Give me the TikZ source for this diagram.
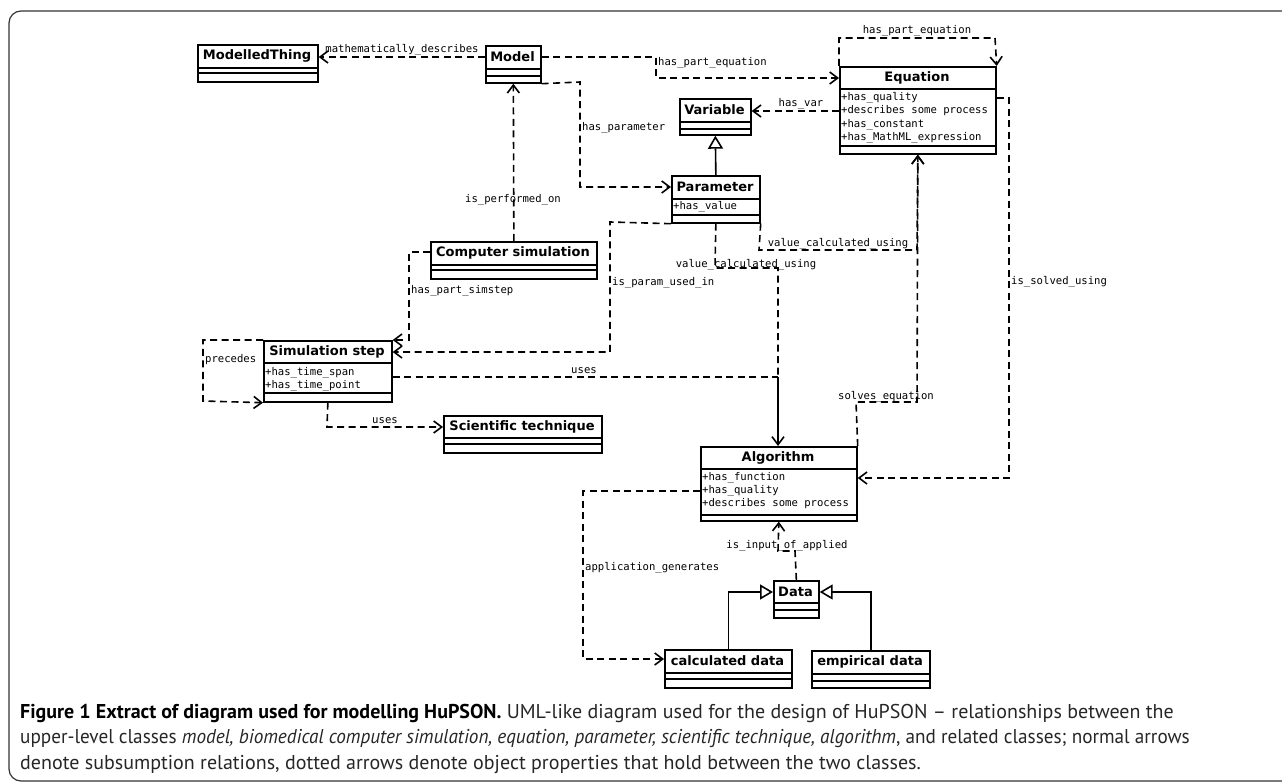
\documentclass[tikz,border=0pt]{standalone}
\usepackage{fontspec}
\setmainfont{PT Sans}
\newfontfamily\clsfont{DejaVu Sans}
\newfontfamily\lblfont{DejaVu Sans Mono}
\usetikzlibrary{arrows.meta}

% one UML class box: name, x, y, width, height, two separator offsets, title
\newcommand{\classbox}[8]{%
  \node[cls, minimum width=#4pt, minimum height=#5pt] (#1) at (#2,#3) {};
  \draw[line width=1.7pt] (#2,#3+#6) -- ++(#4,0) (#2,#3+#7) -- ++(#4,0);
  \node[ttl] (#1-t) at (#2+#4/2,#3+#6/2) {#8};
}

\begin{document}
\begin{tikzpicture}[x=1pt, y=-1pt,
  every node/.style={inner sep=0pt},
  cls/.style={draw, line width=1.7pt, fill=white, anchor=north west},
  ttl/.style={font=\clsfont\bfseries\fontsize{13}{15}\selectfont},
  attr/.style={font=\lblfont\fontsize{10.6}{12}\selectfont, anchor=west},
  lbl/.style={font=\lblfont\fontsize{10.6}{12}\selectfont},
  captext/.style={font=\fontsize{20}{24}\selectfont, anchor=west, text=black!85},
  deline/.style={line width=1.6pt, dash pattern=on 7pt off 4.5pt},
  dep/.style={deline, -{Straight Barb[length=8pt,width=12pt]}},
  isa/.style={line width=1.6pt, -{Triangle[open,length=13pt,width=15pt,fill=white]}}]
  \useasboundingbox (0,0) rectangle (1282,783);
  \clip (0,0) rectangle (1282,783);
  \draw[line width=1.2pt, black!80, rounded corners=12pt] (1320,11) -- (9,11) -- (9,781) -- (1320,781);

  % classes
  \classbox{mthing}{197}{44}{120}{37}{24}{29}{ModelledThing}
  \classbox{model}{485}{45}{55}{37}{24}{31}{Model}
  \classbox{eqn}{839}{66}{156}{87}{23}{80}{Equation}
  \classbox{var}{679}{98}{71}{36}{24}{31}{Variable}
  \classbox{param}{671}{175}{88}{47}{24}{40}{Parameter}
  \classbox{compsim}{430}{241}{166}{37}{24}{29}{Computer simulation}
  \classbox{simstep}{263}{340}{128}{61}{23}{53}{Simulation step}
  \classbox{scitech}{443}{415}{158}{37}{23}{29}{Scientific technique}
  \classbox{algo}{700}{446}{156}{74}{23}{69}{Algorithm}
  \classbox{data}{773}{580}{45}{37}{23}{30}{Data}
  \classbox{calc}{664}{649}{127}{38}{24}{30}{calculated data}
  \classbox{emp}{811}{650}{118}{37}{24}{31}{empirical data}

  % attributes
  \node[attr] (eqn-a1) at (841,98) {+has\_quality};
  \node[attr] (eqn-a2) at (841,111) {+describes some process};
  \node[attr] (eqn-a3) at (841,125) {+has\_constant};
  \node[attr] (eqn-a4) at (841,138) {+has\_MathML\_expression};
  \node[attr] (param-a1) at (673,207) {+has\_value};
  \node[attr] (simstep-a1) at (265,373) {+has\_time\_span};
  \node[attr] (simstep-a2) at (265,386) {+has\_time\_point};
  \node[attr] (algo-a1) at (702,478) {+has\_function};
  \node[attr] (algo-a2) at (702,491) {+has\_quality};
  \node[attr] (algo-a3) at (702,504) {+describes some process};

  % object properties
  \draw[dep] (model.west |- 0,57) -- (mthing.east |- 0,57);
  \node[lbl] (l-math) at (402,50) {mathematically\_describes};
  \draw[dep] (model.east |- 0,57) -- (656,57) -- (656,78) -- (eqn.west |- 0,78);
  \node[lbl, anchor=west] (l-part1) at (658,63) {has\_part\_equation};
  \draw[dep] (eqn.north west) -- (839,38) -- (995,38) -- (eqn.north east);
  \node[lbl] (l-part2) at (917,31) {has\_part\_equation};
  \draw[dep] (eqn.west |- 0,111) -- (var.east |- 0,111);
  \node[lbl] (l-var) at (801,104) {has\_var};
  \draw[dep] (model.south east) -- (580,82) -- (580,187) -- (param.west |- 0,187);
  \node[lbl, anchor=west] (l-hpar) at (582,128) {has\_parameter};
  \draw[isa] (param.north) -- (var.south);
  \draw[dep] (compsim.north) -- (model.south);
  \node[lbl] (l-perf) at (513,200) {is\_performed\_on};
  \draw[dep] (compsim.west |- 0,252) -- (409,252) -- (409,340) -- (simstep.north east);
  \node[lbl, anchor=west] (l-simstep) at (411,291) {has\_part\_simstep};
  \draw[dep] (param.south west) -- (610,222) -- (610,352) -- (simstep.east |- 0,352);
  \node[lbl, anchor=west] (l-used) at (612,283) {is\_param\_used\_in};
  \coordinate (join) at (778,377);
  \draw[deline] (param.south) -- (715,268) -- (778,268) -- (join);
  \node[lbl] (l-val1) at (746,265) {value\_calculated\_using};
  \draw[deline] (simstep.east |- join) -- (join);
  \node[lbl] (l-uses1) at (584,371) {uses};
  \draw[line width=1.6pt, -{Straight Barb[length=8pt,width=12pt]}] (join) -- (join |- algo.north);
  \draw[dep] (param.south east) -- (759,250) -- (917,250) -- (eqn.south);
  \node[lbl] (l-val2) at (838,244) {value\_calculated\_using};
  \draw[dep] (algo.north east) -- (856,402) -- (917,402) -- (eqn.south);
  \node[lbl] (l-solves) at (886,397) {solves\_equation};
  \draw[dep] (eqn.east |- 0,98) -- (1009,98) -- (1009,478) -- (algo.east |- 0,478);
  \node[lbl, anchor=west] (l-solved) at (1011,282) {is\_solved\_using};
  \draw[dep] (simstep.north west) -- (203,340) -- (203,401) -- (simstep.south west);
  \node[lbl, anchor=west] (l-prec) at (205,360) {precedes};
  \draw[dep] (simstep.south) -- (327,427) -- (scitech.west |- 0,427);
  \node[lbl] (l-uses2) at (385,421) {uses};
  \draw[dep] (algo.west |- 0,491) -- (583,491) -- (583,659) -- (calc.west |- 0,659);
  \node[lbl, anchor=west] (l-appl) at (585,568) {application\_generates};
  \draw[dep] (data.north) -- (795,551) -- (778,551) -- (algo.south);
  \node[lbl] (l-input) at (787,546) {is\_input\_of\_applied};
  \draw[isa] (calc.north) |- (data.west |- 0,592);
  \draw[isa] (emp.north) |- (data.east |- 0,592);

  % caption
  \node[captext] (cap1) at (20,713) {\textbf{\color{black}Figure 1 Extract of diagram used for modelling HuPSON.} UML-like diagram used for the design of HuPSON -- relationships between the};
  \node[captext, xscale=0.96, anchor=west] (cap2) at (20,739) {upper-level classes \textit{model, biomedical computer simulation, equation, parameter, scientific technique, algorithm}, and related classes; normal arrows};
  \node[captext] (cap3) at (20,765) {denote subsumption relations, dotted arrows denote object properties that hold between the two classes.};
\end{tikzpicture}
\end{document}
